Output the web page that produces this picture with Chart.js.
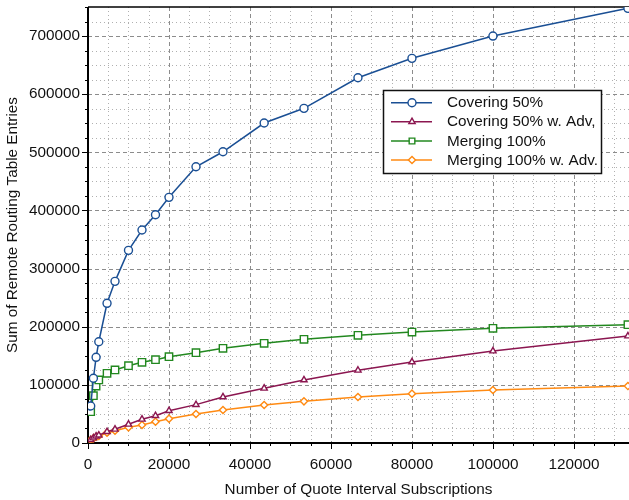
<!DOCTYPE html>
<html>
<head>
<meta charset="utf-8">
<script src="https://cdn.jsdelivr.net/npm/chart.js@4/dist/chart.umd.min.js"></script>
<style>
	html, body { margin: 0; padding: 0; background: #fff; }
	canvas { display: block; }
</style>
</head>
<body>
<canvas id="graficoTabelas" width="629" height="500"></canvas>
<script>
// valores
var subscricoes = [667, 1333, 2000, 2667, 4700, 6667, 10000, 13333, 16667, 20000, 26667, 33333, 43500, 53333, 66667, 80000, 100000, 133333];
var covering50 = [63600, 111300, 147400, 174200, 240300, 278100, 331400, 366400, 392700, 422600, 475200, 501000, 550400, 575700, 628300, 661700, 700000, 747700];
var covering50Adv = [5500, 8500, 11500, 13500, 19400, 23600, 32200, 40800, 47000, 55600, 66000, 79100, 94100, 108400, 125000, 139300, 158200, 184000];
var merging100 = [53800, 81400, 98000, 108400, 119900, 125600, 133000, 138800, 143300, 148400, 155300, 162900, 171500, 178400, 185200, 190900, 197300, 203500];
var merging100Adv = [5200, 8100, 10800, 12000, 17700, 21200, 27000, 31000, 36600, 41800, 49900, 56800, 65400, 71700, 79100, 84800, 91200, 98000];

var nomesSeries = ['Covering 50%', 'Covering 50% w. Adv,', 'Merging 100%', 'Merging 100% w. Adv.'];
var ticksX = [0, 20000, 40000, 60000, 80000, 100000, 120000];
var ticksY = [0, 100000, 200000, 300000, 400000, 500000, 600000, 700000];

var X_MAX = 133600;
var Y_MAX = 750000;
var FONTE = '"Liberation Sans", Arial, sans-serif';
var TAM_FONTE = 15.3;

function pontos(valores) {
	return subscricoes.map(function(x, i) {
		return { x: x, y: valores[i] };
	});
}

function serie(label, valores, cor, estilo, raio) {
	return {
		label: label,
		data: pontos(valores),
		borderColor: cor,
		backgroundColor: '#fff',
		borderWidth: 1.5,
		pointStyle: estilo,
		pointRadius: raio,
		pointBorderWidth: 1.4,
		pointBorderColor: cor,
		pointBackgroundColor: '#fff',
		tension: 0
	};
}

function linha(ctx, x1, y1, x2, y2) {
	ctx.beginPath();
	ctx.moveTo(x1, y1);
	ctx.lineTo(x2, y2);
	ctx.stroke();
}

// grade pontilhada/tracejada, moldura e marcas dos eixos
var gradePlugin = {
	id: 'grade',
	beforeDatasetsDraw: function(chart) {
		var ctx = chart.ctx, area = chart.chartArea;
		var sx = chart.scales.x, sy = chart.scales.y;
		var v, p;

		ctx.save();
		ctx.beginPath();
		ctx.rect(area.left, area.top, area.right - area.left, area.bottom - area.top);
		ctx.clip();
		ctx.lineWidth = 1;

		ctx.strokeStyle = '#b0b0b0';
		ctx.setLineDash([1, 3]);
		for (v = 5000; v < X_MAX; v += 5000) {
			if (v % 20000 === 0) continue;
			p = Math.round(sx.getPixelForValue(v)) + 0.5;
			linha(ctx, p, area.top, p, area.bottom);
		}
		for (v = 25000; v < Y_MAX; v += 25000) {
			if (v % 100000 === 0) continue;
			p = Math.round(sy.getPixelForValue(v)) + 0.5;
			linha(ctx, area.left, p, area.right, p);
		}

		ctx.strokeStyle = '#8c8c8c';
		ctx.setLineDash([4, 3]);
		ticksX.forEach(function(t) {
			if (t === 0) return;
			p = Math.round(sx.getPixelForValue(t)) + 0.5;
			linha(ctx, p, area.top, p, area.bottom);
		});
		ticksY.forEach(function(t) {
			if (t === 0) return;
			p = Math.round(sy.getPixelForValue(t)) + 0.5;
			linha(ctx, area.left, p, area.right, p);
		});
		ctx.restore();

		ctx.save();
		ctx.strokeStyle = '#000';
		ctx.lineWidth = 1;
		for (v = 0; v <= X_MAX; v += 5000) {
			p = Math.round(sx.getPixelForValue(v)) + 0.5;
			linha(ctx, p, area.bottom, p, area.bottom + (v % 20000 === 0 ? 6 : 3));
		}
		for (v = 0; v <= Y_MAX; v += 25000) {
			p = Math.round(sy.getPixelForValue(v)) + 0.5;
			linha(ctx, area.left, p, area.left - (v % 100000 === 0 ? 6 : 3), p);
		}
		ctx.lineWidth = 2;
		linha(ctx, area.left, area.top, area.left, area.bottom + 1);
		linha(ctx, area.left - 1, area.bottom, area.right, area.bottom);
		ctx.lineWidth = 1.5;
		linha(ctx, area.left, area.top, area.right, area.top);
		ctx.restore();
	},
	afterDraw: function(chart) {
		var ctx = chart.ctx;
		var caixa = { x: 383.5, y: 90.5, w: 218, h: 83 };
		var linhasY = [102.7, 121.7, 141, 160];

		ctx.save();
		ctx.fillStyle = '#fff';
		ctx.fillRect(caixa.x, caixa.y, caixa.w, caixa.h);
		ctx.strokeStyle = '#111';
		ctx.lineWidth = 1.5;
		ctx.strokeRect(caixa.x, caixa.y, caixa.w, caixa.h);

		ctx.font = TAM_FONTE + 'px ' + FONTE;
		ctx.textBaseline = 'middle';
		chart.data.datasets.forEach(function(ds, i) {
			var y = linhasY[i];
			ctx.strokeStyle = ds.borderColor;
			ctx.lineWidth = 1.5;
			linha(ctx, 391, y, 432, y);
			ctx.fillStyle = '#fff';
			ctx.lineWidth = 1.4;
			Chart.helpers.drawPoint(ctx, {
				pointStyle: ds.pointStyle,
				radius: Math.min(ds.pointRadius, 4),
				rotation: 0,
				borderWidth: 1.4
			}, 412, y);
			ctx.fillStyle = '#111';
			ctx.fillText(ds.label, 447, y + 0.5);
		});
		ctx.restore();
	}
};

Chart.defaults.font.family = FONTE;
Chart.defaults.font.size = TAM_FONTE;
Chart.defaults.color = '#111';

var grafico = new Chart(document.getElementById('graficoTabelas').getContext('2d'), {
	type: 'line',
	data: {
		datasets: [
			serie(nomesSeries[0], covering50, '#1a4f94', 'circle', 4),
			serie(nomesSeries[1], covering50Adv, '#8b1650', 'triangle', 3.6),
			serie(nomesSeries[2], merging100, '#22881f', 'rect', 5.2),
			serie(nomesSeries[3], merging100Adv, '#ff8a12', 'rectRot', 3.6)
		]
	},
	options: {
		responsive: false,
		animation: false,
		layout: {
			autoPadding: false,
			padding: { top: 7, right: 0, left: 0, bottom: 0 }
		},
		plugins: {
			legend: { display: false },
			tooltip: { enabled: false }
		},
		scales: {
			x: {
				type: 'linear',
				min: 0,
				max: X_MAX,
				grid: { display: false, drawTicks: false },
				border: { display: false },
				afterBuildTicks: function(s) {
					s.ticks = ticksX.map(function(v) { return { value: v }; });
				},
				afterFit: function(s) {
					s.height = 57;
					s.paddingLeft = 0;
					s.paddingRight = 0;
				},
				ticks: {
					padding: 13,
					maxRotation: 0,
					callback: function(v) { return String(v); }
				},
				title: {
					display: true,
					text: 'Number of Quote Interval Subscriptions',
					padding: { top: 0, bottom: 1 }
				}
			},
			y: {
				type: 'linear',
				min: 0,
				max: Y_MAX,
				grid: { display: false, drawTicks: false },
				border: { display: false },
				afterBuildTicks: function(s) {
					s.ticks = ticksY.map(function(v) { return { value: v }; });
				},
				afterFit: function(s) {
					s.width = 88;
					s.paddingTop = 0;
					s.paddingBottom = 0;
				},
				ticks: {
					padding: 8,
					callback: function(v) { return String(v); }
				},
				title: {
					display: true,
					text: 'Sum of Remote Routing Table Entries',
					padding: { top: 4, bottom: 0 }
				}
			}
		}
	},
	plugins: [gradePlugin]
});
</script>
</body>
</html>
